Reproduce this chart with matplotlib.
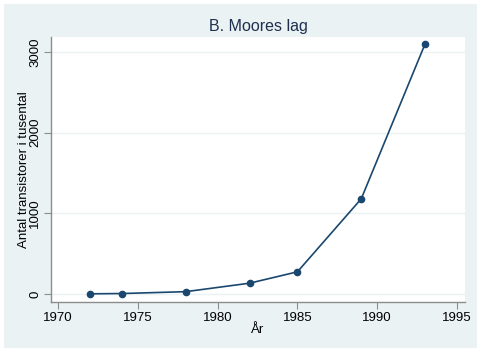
import matplotlib.pyplot as plt
from matplotlib.patches import Rectangle

# Moore's law: transistor count (thousands) per year
years = [1972, 1974, 1978, 1982, 1985, 1989, 1993]
transistors = [2.3, 6, 29, 134, 275, 1180, 3100]

xticks = [1970, 1975, 1980, 1985, 1990, 1995]
yticks = [0, 1000, 2000, 3000]

navy = '#1a476f'
bg = '#eaf2f3'
W, H = 481, 353

plt.rcParams['font.family'] = ['Liberation Sans', 'DejaVu Sans']

fig = plt.figure(figsize=(W / 100, H / 100), dpi=100, facecolor='white')
fig.patches.append(Rectangle((4 / W, 1 - 348 / H), 473 / W, 344 / H,
                             transform=fig.transFigure, facecolor=bg,
                             edgecolor='none', zorder=-1))

ax = fig.add_axes([51 / W, 1 - 302 / H, 414 / W, 265 / H])
ax.set_facecolor('white')
ax.plot(years, transistors, color=navy, lw=1.2, marker='o', markersize=4.5,
        markerfacecolor=navy, markeredgecolor=navy)

ax.set_xlim(1969.56, 1995.5)
ax.set_ylim(-99, 3185)
ax.set_xticks(xticks)
ax.set_yticks(yticks)
ax.set_yticklabels([str(v) for v in yticks], rotation=90, va='center')
ax.grid(True, axis='y', color=bg, lw=1)
ax.set_axisbelow(True)

for s in ['top', 'right']:
    ax.spines[s].set_visible(False)
for s in ['left', 'bottom']:
    ax.spines[s].set_color('#8c8c8c')
    ax.spines[s].set_linewidth(1)
ax.tick_params(colors='#8c8c8c', labelcolor='black', labelsize=9.5,
               length=5, pad=2)

ax.set_xlabel('År', fontsize=9.5, labelpad=0)
ax.set_ylabel('Antal transistorer i tusental', fontsize=9.5)
ax.yaxis.set_label_coords(-0.05, 0.5)
fig.text(0.5 * (51 + 465) / W, 1 - 26 / H, 'B. Moores lag', ha='center',
         va='center', fontsize=11.5, color='#1e2f4f')

fig.savefig('out.png', dpi=100, facecolor='white')
